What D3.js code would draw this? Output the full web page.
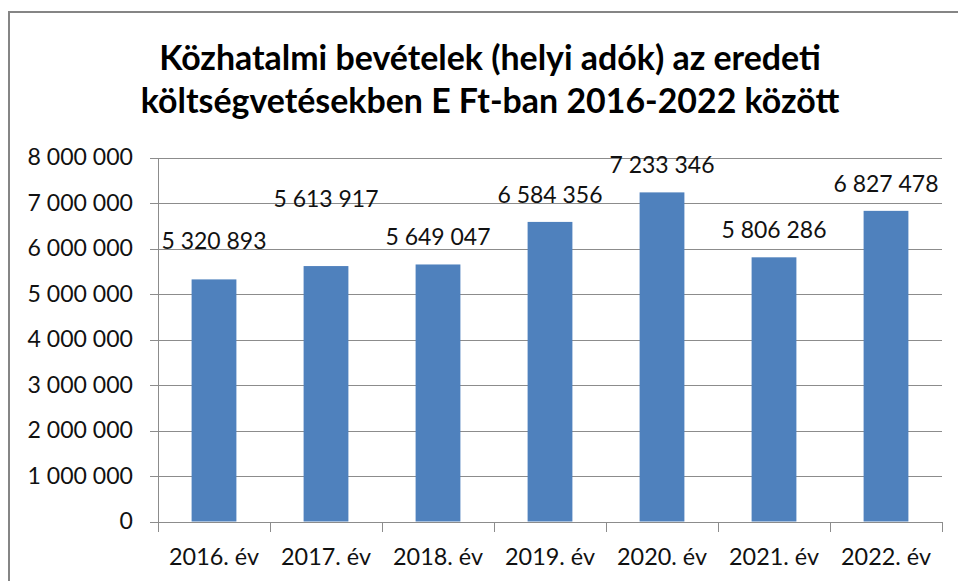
<html>
<head>
<meta charset="utf-8">
<script src="https://d3js.org/d3.v7.min.js"></script>
<style>
  body { margin: 0; background: #fff; }
  text { font-family: Lato, "Open Sans", sans-serif; fill: #111; }
</style>
</head>
<body>
<svg width="958" height="581"></svg>
<script>
// chart data
const years = ["2016. év", "2017. év", "2018. év", "2019. év", "2020. év", "2021. év", "2022. év"];
const values = [5320893, 5613917, 5649047, 6584356, 7233346, 5806286, 6827478];
const yTicks = [0, 1000000, 2000000, 3000000, 4000000, 5000000, 6000000, 7000000, 8000000];
const titleLines = ["Közhatalmi bevételek (helyi adók) az eredeti", "költségvetésekben E Ft-ban 2016-2022 között"];

// label lift above the bar top (some labels were dragged by hand in the original)
const labelLift = [30, 59, 19.5, 18.6, 19, 19.6, 19.2];

const plotLeft = 158, plotRight = 942, plotTop = 157.5, plotBottom = 521.5;
const svg = d3.select("svg");

const huLocale = d3.formatLocale({decimal: ",", thousands: " ", grouping: [3], currency: ["", ""]});
const fmt = huLocale.format(",");

// scale text so a sample string hits the width measured on the picture
function fitSize(weight, sample, target) {
  const t = svg.append("text").style("font-size", "20px").style("font-weight", weight).text(sample);
  const w = t.node().getComputedTextLength();
  t.remove();
  return 20 * target / w;
}

// outer border (right and bottom run off the picture)
svg.append("rect")
  .attr("x", 9).attr("y", 12).attr("width", 990).attr("height", 600)
  .attr("fill", "none").attr("stroke", "#858585").attr("stroke-width", 2);

// title
const titleSize = fitSize("bold", titleLines[1], 699);
svg.selectAll(".title").data(titleLines).enter().append("text")
  .attr("class", "title")
  .attr("x", 490)
  .attr("y", (d, i) => 70 + i * 43)
  .attr("text-anchor", "middle")
  .style("font-weight", "bold")
  .style("font-size", titleSize + "px")
  .style("fill", "#000")
  .text(d => d);

var x = d3.scaleBand().domain(years).range([plotLeft, plotRight]).paddingInner(0.6).paddingOuter(0.3);
var y = d3.scaleLinear().domain([0, 8000000]).range([plotBottom, plotTop]);

// gridlines with the outward tick
svg.append("g").selectAll("line").data(yTicks).enter().append("line")
  .attr("x1", plotLeft - 8).attr("x2", plotRight)
  .attr("y1", d => Math.round(y(d)) + 0.5).attr("y2", d => Math.round(y(d)) + 0.5)
  .attr("stroke", "#8c8c8c").attr("stroke-width", 1);

// y axis line
svg.append("line")
  .attr("x1", plotLeft + 0.5).attr("x2", plotLeft + 0.5)
  .attr("y1", Math.round(plotTop)).attr("y2", Math.round(plotBottom) + 0.5)
  .attr("stroke", "#8c8c8c");

// x ticks at category boundaries
const bounds = years.map(d => x(d) - x.step() * 0.3).concat([plotRight]);
svg.append("g").selectAll("line").data(bounds).enter().append("line")
  .attr("x1", d => Math.round(d) + 0.5).attr("x2", d => Math.round(d) + 0.5)
  .attr("y1", Math.round(plotBottom)).attr("y2", Math.round(plotBottom) + 10)
  .attr("stroke", "#8c8c8c");

// bars
svg.append("g").selectAll("rect").data(values).enter().append("rect")
  .attr("x", (d, i) => x(years[i]))
  .attr("y", d => y(d))
  .attr("width", x.bandwidth())
  .attr("height", d => y(0) - y(d))
  .attr("fill", "#4f81bd");

// y tick labels
const tickSize = fitSize("normal", "8 000 000", 105.5);
svg.append("g").selectAll("text").data(yTicks).enter().append("text")
  .attr("x", 133)
  .attr("y", d => y(d) + 7.5)
  .attr("text-anchor", "end")
  .style("font-size", tickSize + "px")
  .text(d => fmt(d));

// x labels
const xSize = fitSize("normal", "2016. év", 90);
svg.append("g").selectAll("text").data(years).enter().append("text")
  .attr("x", d => x(d) + x.bandwidth() / 2)
  .attr("y", 565)
  .attr("text-anchor", "middle")
  .style("font-size", xSize + "px")
  .text(d => d);

// value labels
const valSize = fitSize("normal", "5 613 917", 105);
svg.append("g").selectAll("text").data(values).enter().append("text")
  .attr("x", (d, i) => x(years[i]) + x.bandwidth() / 2)
  .attr("y", (d, i) => y(d) - labelLift[i])
  .attr("text-anchor", "middle")
  .style("font-size", valSize + "px")
  .text(d => fmt(d));
</script>
</body>
</html>
